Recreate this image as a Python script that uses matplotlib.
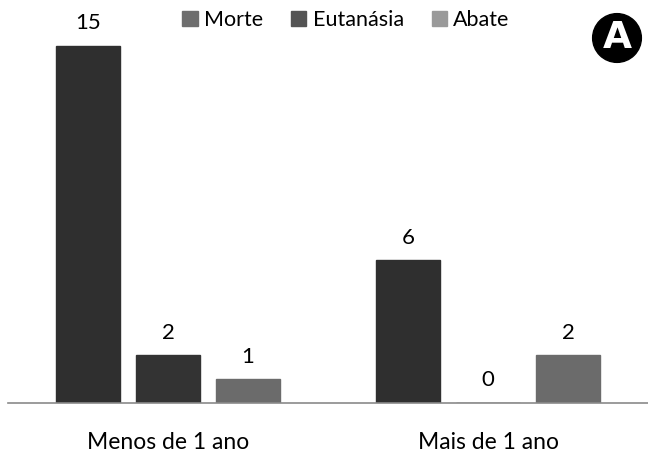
import numpy as np
import matplotlib
matplotlib.use('Agg')
import matplotlib.pyplot as plt
from matplotlib.patches import Patch

# data
groups = ['Menos de 1 ano', 'Mais de 1 ano']
series = ['Morte', 'Eutanásia', 'Abate']
morte = [15, 6]
eutanasia = [2, 0]
abate = [1, 2]

bar_colors = ['#2f2f2f', '#333333', '#6b6b6b']
legend_colors = ['#6e6e6e', '#545454', '#9a9a9a']

plt.rcParams['font.family'] = ['Lato', 'DejaVu Sans']

fig = plt.figure(figsize=(6.48, 4.53), dpi=100)
ax = fig.add_axes([8 / 648, 50 / 453, 640 / 648, 403 / 453])

x = np.arange(len(groups))
width = 0.197
offsets = [-0.25, 0.0, 0.25]
for vals, off, col in zip([morte, eutanasia, abate], offsets, bar_colors):
    bars = ax.bar(x + off, vals, width, color=col, edgecolor=col)
    for b, v in zip(bars, vals):
        ax.annotate(str(v), (b.get_x() + b.get_width() / 2, v),
                    xytext=(0, 9), textcoords='offset points',
                    ha='center', va='bottom', fontsize=16)

ax.set_xlim(-0.5, 1.5)
ax.set_ylim(0, 16.93)
ax.set_yticks([])
ax.set_xticks(x)
ax.set_xticklabels(groups, fontsize=16.5)
ax.tick_params(axis='x', length=0, pad=21)
for s in ['top', 'right', 'left']:
    ax.spines[s].set_visible(False)
ax.spines['bottom'].set_color('#8a8a8a')
ax.spines['bottom'].set_linewidth(1.2)

handles = [Patch(facecolor=c, edgecolor=c) for c in legend_colors]
fig.legend(handles, series, loc='upper center', bbox_to_anchor=(0.534, 1.02),
           ncol=3, frameon=False, fontsize=15.5, handlelength=0.7, handleheight=0.7,
           handletextpad=0.3, columnspacing=1.3)

fig.text(617 / 648, 1 - 38 / 453, 'A', ha='center', va='center', color='white',
         fontsize=27, fontweight='bold', family='DejaVu Sans',
         bbox=dict(boxstyle='circle,pad=0.17', facecolor='black', edgecolor='black'))

fig.savefig('out.png', dpi=100)
